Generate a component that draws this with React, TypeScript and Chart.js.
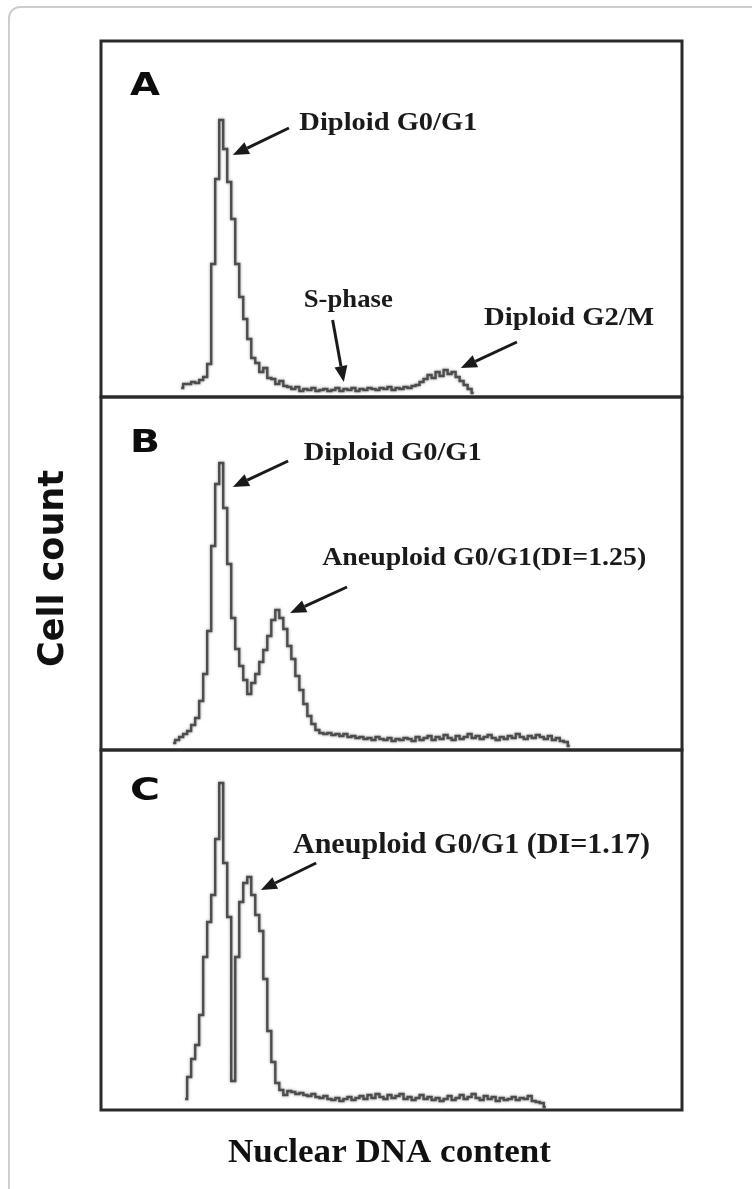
import { useEffect, useRef } from "react";
import { Chart, registerables } from "chart.js";

Chart.register(...registerables);

// ---- data (histogram bins of nuclear DNA content, ~channel units) ----
const CHANNEL_MIN = 0;
const CHANNEL_MAX = 145;

const startA = 20;
const countsA = [
  6, 10, 10, 12, 11, 14, 17, 30, 130, 215, 274, 245, 212, 175, 130, 97, 75, 55, 36, 31,
  22, 26, 16, 15, 10, 13, 8, 7, 5, 7, 3, 5, 4, 6, 3, 4, 5, 3, 4, 6,
  3, 5, 4, 6, 3, 5, 4, 6, 5, 4, 6, 5, 7, 4, 6, 5, 7, 6, 8, 9,
  12, 15, 19, 16, 22, 18, 24, 20, 22, 17, 13, 9, 5, 1,
];

const startB = 18;
const countsB = [
  3, 6, 9, 12, 15, 21, 28, 45, 72, 115, 200, 262, 283, 238, 182, 128, 97, 80, 66, 52,
  63, 72, 84, 96, 110, 126, 136, 128, 117, 100, 87, 70, 56, 42, 30, 22, 16, 13,
  12, 13, 11, 12, 10, 12, 9, 10, 8, 9, 7, 8, 6, 9, 7, 6, 8, 5, 7, 6,
  8, 7, 5, 9, 6, 8, 10, 6, 9, 7, 11, 8, 6, 10, 7, 9, 12, 8, 10, 7,
  9, 11, 8, 6, 9, 7, 10, 8, 12, 9, 7, 10, 8, 11, 9, 7, 10, 6, 8, 5, 4, 0,
];

const startC = 21;
const countsC = [
  8, 30, 48, 62, 92, 150, 185, 212, 268, 324, 244, 190, 26, 150, 205, 224, 230, 212, 192, 176,
  128, 76, 45, 24, 17, 12, 16,
  15, 13, 14, 12, 11, 13, 10, 9, 11, 8, 7, 9, 6, 8, 10, 7, 9, 11, 8, 12,
  9, 13, 10, 8, 12, 9, 11, 13, 8, 10, 7, 9, 12, 8, 10, 7, 9, 6, 8, 11,
  7, 9, 12, 8, 10, 13, 9, 7, 11, 8, 10, 6, 9, 7, 8, 10, 7, 9, 8, 11,
  6, 5, 4, 0,
];

const panelLetters = ["A", "B", "C"];
const xTitle = "Nuclear DNA content";
const yTitle = "Cell count";

// annotations (in data units of each panel)
const notes = [
  { axis: "yA", text: "Diploid G0/G1", x: 49.5, y: 264 },
  { axis: "yA", text: "S-phase", x: 50.6, y: 87 },
  { axis: "yA", text: "Diploid G2/M", x: 95.6, y: 69 },
  { axis: "yB", text: "Diploid G0/G1", x: 50.6, y: 286 },
  { axis: "yB", text: "Aneuploid G0/G1(DI=1.25)", x: 55.2, y: 181 },
  { axis: "yC", text: "Aneuploid G0/G1 (DI=1.17)", x: 47.9, y: 254 },
];
const arrows = [
  { axis: "yA", x1: 46.9, y1: 266, x2: 32.9, y2: 239 },
  { axis: "yA", x1: 57.8, y1: 74, x2: 60.6, y2: 12 },
  { axis: "yA", x1: 103.8, y1: 52, x2: 89.8, y2: 26 },
  { axis: "yB", x1: 46.7, y1: 285, x2: 32.9, y2: 259 },
  { axis: "yB", x1: 61.4, y1: 159, x2: 47.2, y2: 133 },
  { axis: "yC", x1: 53.7, y1: 244, x2: 39.9, y2: 217 },
];

// ---- styling ----
const noteStyle: Record<string, { font: string; width: number }> = {
  "Diploid G0/G1": { font: "bold 26px 'Liberation Serif'", width: 178 },
  "S-phase": { font: "bold 26px 'Liberation Serif'", width: 89 },
  "Diploid G2/M": { font: "bold 26px 'Liberation Serif'", width: 170 },
  "Aneuploid G0/G1(DI=1.25)": { font: "bold 26px 'Liberation Serif'", width: 324 },
  "Aneuploid G0/G1 (DI=1.17)": { font: "bold 29px 'Liberation Serif'", width: 357 },
};

function toPoints(start: number, counts: number[]) {
  return counts.map((c, i) => ({ x: start + i, y: c }));
}

function fitText(ctx: CanvasRenderingContext2D, text: string, x: number, y: number, font: string, width: number) {
  ctx.font = font;
  const m = ctx.measureText(text).width;
  ctx.save();
  ctx.translate(x, y);
  ctx.scale(width / m, 1);
  ctx.textAlign = "left";
  ctx.textBaseline = "alphabetic";
  ctx.fillText(text, 0, 0);
  ctx.restore();
}

const hiddenAxis = {
  display: true,
  ticks: { display: false },
  grid: { display: false, drawTicks: false },
  border: { display: false },
};

const decorPlugin = {
  id: "decor",
  beforeDraw(chart: any) {
    const ctx = chart.ctx as CanvasRenderingContext2D;
    ctx.save();
    ctx.fillStyle = "#ffffff";
    ctx.fillRect(0, 0, chart.width, chart.height);
    // outer rounded frame (continues past the page)
    ctx.strokeStyle = "#cdcdcd";
    ctx.lineWidth = 2;
    ctx.beginPath();
    ctx.moveTo(9, chart.height + 20);
    ctx.lineTo(9, 18);
    ctx.arcTo(9, 7, 20, 7, 11);
    ctx.lineTo(chart.width + 20, 7);
    ctx.stroke();
    ctx.restore();
  },
  beforeDatasetsDraw(chart: any) {
    const ctx = chart.ctx as CanvasRenderingContext2D;
    ctx.save();
    ctx.shadowColor = "rgba(0,0,0,0.4)";
    ctx.shadowBlur = 3;
  },
  afterDatasetsDraw(chart: any) {
    const ctx = chart.ctx as CanvasRenderingContext2D;
    ctx.restore();
    const area = chart.chartArea;
    const x = chart.scales.x;
    const ids = ["yA", "yB", "yC"];
    const letterOffsets = [54, 55, 50];
    ctx.save();
    // panel frames
    ctx.strokeStyle = "#2a2a2a";
    ctx.lineWidth = 3;
    ids.forEach((id) => {
      const s = chart.scales[id];
      ctx.strokeRect(area.left, s.top, area.right - area.left, s.bottom - s.top);
    });
    // panel letters
    ctx.fillStyle = "#0d0d0d";
    ids.forEach((id, i) => {
      const s = chart.scales[id];
      fitText(ctx, panelLetters[i], area.left + 29, s.top + letterOffsets[i], "bold 32px 'DejaVu Sans'", 30);
    });
    // notes
    ctx.fillStyle = "#1a1a1a";
    notes.forEach((n) => {
      const s = chart.scales[n.axis];
      const st = noteStyle[n.text];
      fitText(ctx, n.text, x.getPixelForValue(n.x), s.getPixelForValue(n.y), st.font, st.width);
    });
    // arrows
    ctx.strokeStyle = "#1a1a1a";
    ctx.fillStyle = "#1a1a1a";
    arrows.forEach((a) => {
      const s = chart.scales[a.axis];
      const x1 = x.getPixelForValue(a.x1), y1 = s.getPixelForValue(a.y1);
      const x2 = x.getPixelForValue(a.x2), y2 = s.getPixelForValue(a.y2);
      const ang = Math.atan2(y2 - y1, x2 - x1);
      const head = 16, half = 6.5;
      const bx = x2 - head * Math.cos(ang), by = y2 - head * Math.sin(ang);
      ctx.lineWidth = 3;
      ctx.beginPath();
      ctx.moveTo(x1, y1);
      ctx.lineTo(bx, by);
      ctx.stroke();
      ctx.beginPath();
      ctx.moveTo(x2, y2);
      ctx.lineTo(bx + half * Math.sin(ang), by - half * Math.cos(ang));
      ctx.lineTo(bx - half * Math.sin(ang), by + half * Math.cos(ang));
      ctx.closePath();
      ctx.fill();
    });
    // axis titles
    ctx.fillStyle = "#111";
    const midY = (chart.scales.yA.top + chart.scales.yC.bottom) / 2;
    ctx.save();
    ctx.translate(63, midY - 7);
    ctx.rotate(-Math.PI / 2);
    ctx.font = "bold 36px 'DejaVu Sans'";
    const m = ctx.measureText(yTitle).width;
    ctx.scale(197 / m, 1);
    ctx.textAlign = "center";
    ctx.fillText(yTitle, 0, 0);
    ctx.restore();
    fitText(ctx, xTitle, 228, area.bottom + 52, "bold 33px 'Liberation Serif'", 323);
    ctx.restore();
  },
};

export default function App() {
  const ref = useRef<HTMLCanvasElement | null>(null);
  useEffect(() => {
    if (!ref.current) return;
    const line = (data: any, axis: string) => ({
      data,
      yAxisID: axis,
      xAxisID: "x",
      borderColor: "#4d4d4d",
      borderWidth: 2.4,
      pointRadius: 0,
      stepped: "middle" as const,
      fill: false,
    });
    const chart = new Chart(ref.current, {
      type: "line",
      data: {
        datasets: [
          line(toPoints(startA, countsA), "yA"),
          line(toPoints(startB, countsB), "yB"),
          line(toPoints(startC, countsC), "yC"),
        ],
      },
      options: {
        responsive: false,
        animation: false,
        layout: { padding: { left: 101, right: 70, top: 41, bottom: 79 } },
        plugins: { legend: { display: false }, tooltip: { enabled: false } },
        scales: {
          x: { type: "linear", min: CHANNEL_MIN, max: CHANNEL_MAX, ...hiddenAxis },
          yC: { type: "linear", position: "left", stack: "panels", stackWeight: 360, min: -3, max: 357, ...hiddenAxis },
          yB: { type: "linear", position: "left", stack: "panels", stackWeight: 353, min: -4, max: 349, ...hiddenAxis },
          yA: { type: "linear", position: "left", stack: "panels", stackWeight: 356, min: -3, max: 353, ...hiddenAxis },
        } as any,
      },
      plugins: [decorPlugin],
    });
    return () => chart.destroy();
  }, []);
  return (
    <div style={{ position: "fixed", left: 0, top: 0, width: 752, height: 1189, background: "#fff" }}>
      <canvas ref={ref} width={752} height={1189} style={{ display: "block" }} />
    </div>
  );
}
